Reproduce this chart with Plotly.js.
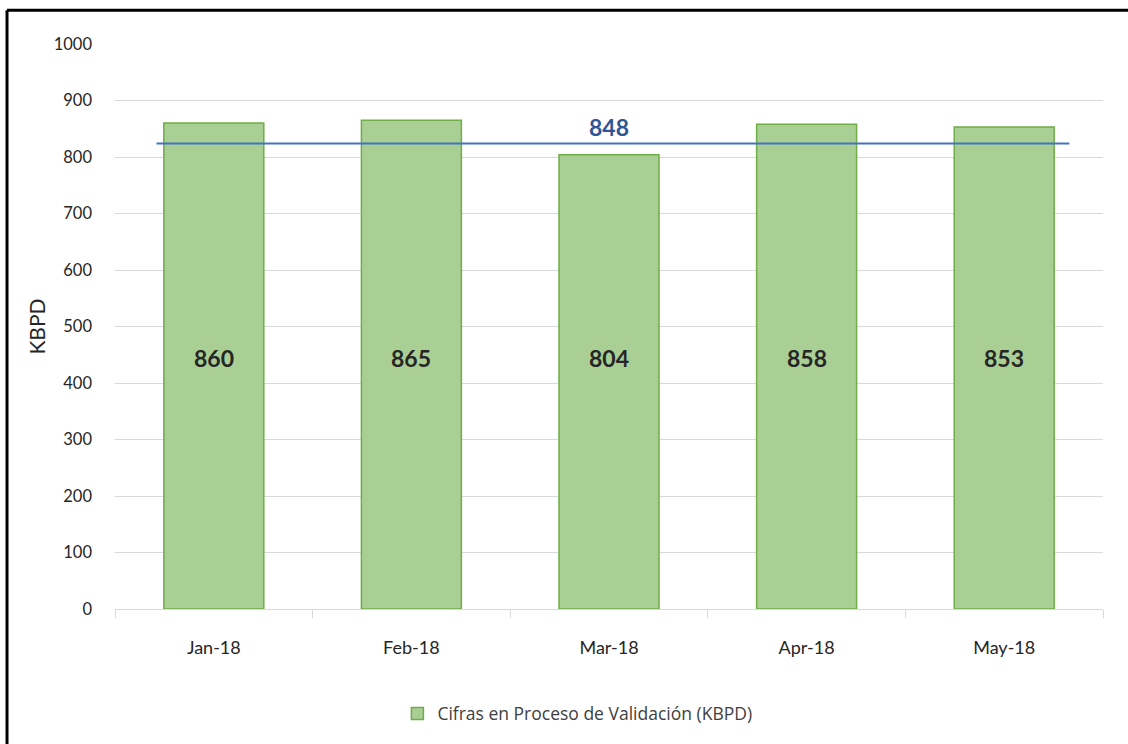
<!DOCTYPE html>
<html>
<head>
<meta charset="utf-8">
<script src="https://cdn.plot.ly/plotly-3.0.1.min.js"></script>
<style>html,body{margin:0;padding:0;background:#fff;}#chart{width:1128px;height:744px;}</style>
</head>
<body>
<div id="chart"></div>
<script>
const categories = ["Jan-18", "Feb-18", "Mar-18", "Apr-18", "May-18"];
const values = [860, 865, 804, 858, 853];
const seriesName = "Cifras en Proceso de Validación (KBPD)";
const avgLineValue = 824;
const avgLabel = "848";
const yTicks = [0, 100, 200, 300, 400, 500, 600, 700, 800, 900, 1000];

const fontFam = "Lato, 'Open Sans', sans-serif";

const traces = [{
  type: "bar",
  x: categories,
  y: values,
  name: seriesName,
  width: 0.506,
  marker: {color: "#a9cf95", line: {color: "#70ad47", width: 1.5}},
  hoverinfo: "x+y"
}];

// data labels: all drawn at the same height, as in the reference
const labelAnns = categories.map((c, i) => ({
  xref: "x", yref: "y", x: c, y: 444, yanchor: "middle",
  text: "<b>" + String(values[i]) + "</b>", showarrow: false,
  font: {family: fontFam, size: 23, color: "#262626"}
}));

const layout = {
  width: 1128, height: 744,
  margin: {l: 115, r: 25, t: 44, b: 131},
  paper_bgcolor: "#ffffff",
  plot_bgcolor: "#ffffff",
  font: {family: fontFam, color: "#333333"},
  showlegend: true,
  legend: {
    orientation: "h", x: 0.468, xanchor: "center", y: -0.185, yanchor: "middle",
    font: {family: "'Open Sans', sans-serif", size: 17.5, color: "#404040"},
    itemwidth: 30
  },
  xaxis: {
    type: "category",
    showgrid: false,
    showline: true, linecolor: "#d9d9d9", linewidth: 1,
    ticks: "outside", tickson: "boundaries", ticklen: 8, tickcolor: "#d9d9d9",
    tickfont: {family: fontFam, size: 18, color: "#262626"},
    ticklabelstandoff: 22,
    range: [-0.5, 4.5]
  },
  yaxis: {
    range: [0, 1000],
    tickvals: yTicks,
    ticktext: yTicks.map(String),
    showgrid: true, gridcolor: "#d9d9d9", gridwidth: 1,
    zeroline: false, showline: false, ticks: "",
    tickfont: {family: fontFam, size: 16.5, color: "#262626"},
    ticklabelstandoff: 22,
    title: {text: "KBPD", font: {family: fontFam, size: 21, color: "#262626"}, standoff: 2}
  },
  shapes: [
    {type: "line", xref: "x", yref: "y", x0: -0.29, x1: 4.33, y0: avgLineValue, y1: avgLineValue,
     line: {color: "#4472c4", width: 2}},
    {type: "line", xref: "paper", yref: "paper", x0: -0.1093, x1: 1.03, y0: 1.0598, y1: 1.0598,
     line: {color: "#000000", width: 3}},
    {type: "line", xref: "paper", yref: "paper", x0: -0.1093, x1: -0.1093, y0: 1.0598, y1: -0.24,
     line: {color: "#000000", width: 3}}
  ],
  annotations: labelAnns.concat([
    {xref: "x", yref: "y", x: 2, y: avgLineValue, yanchor: "bottom", yshift: 0,
     text: "<b>" + avgLabel + "</b>", showarrow: false,
     font: {family: fontFam, size: 23, color: "#2f5597"}}
  ])
};

Plotly.newPlot("chart", traces, layout, {displayModeBar: false, staticPlot: true});
</script>
</body>
</html>
